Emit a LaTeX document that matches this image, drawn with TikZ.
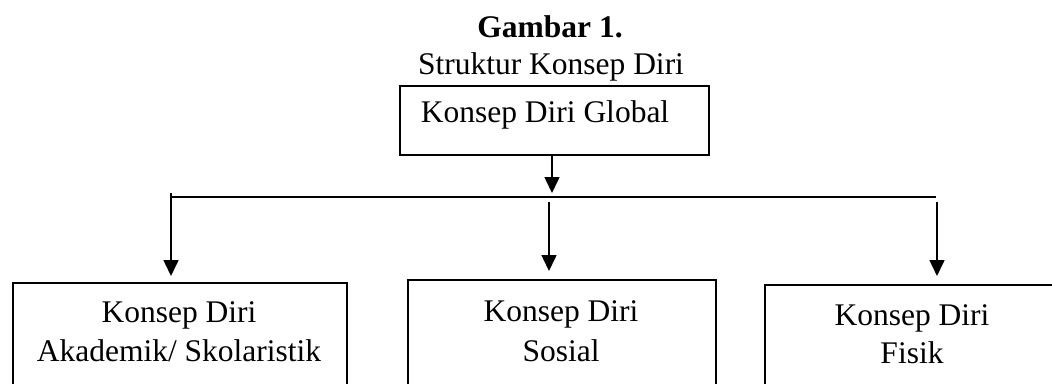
\documentclass[tikz,border=0pt]{standalone}
\usepackage{fontspec}
\setmainfont{Liberation Serif}
\usetikzlibrary{arrows.meta}
\begin{document}
\begin{tikzpicture}[x=1pt,y=-1pt,
  line width=1.6pt,
  txt/.style={inner sep=0pt,anchor=base,font=\fontsize{31.5}{39}\selectfont},
  boxnode/.style={draw,line width=1.6pt,inner sep=0pt,anchor=north west},
  arr/.style={-{Triangle[width=15pt,length=16pt]},line width=1.6pt}]
\clip (0,0) rectangle (1052,383);
\fill[white] (0,0) rectangle (1052,383);
% title
\node[txt,font=\fontsize{31.5}{39}\selectfont\bfseries] (title) at (550,37) {Gambar 1.};
\node[txt] (sub) at (551,74) {Struktur Konsep Diri};
% top box
\node[boxnode,minimum width=309pt,minimum height=69pt] (g) at (399,85) {};
\node[txt] (gt) at (545,122) {Konsep Diri Global};
% bottom boxes
\node[boxnode,minimum width=334pt,minimum height=160pt] (a) at (12,282) {};
\node[boxnode,minimum width=308pt,minimum height=160pt] (s) at (407,279) {};
\node[boxnode,minimum width=310pt,minimum height=160pt] (f) at (764,284) {};
\node[txt] (a1) at (179,322) {Konsep Diri};
\node[txt] (a2) at (179,361) {Akademik/ Skolaristik};
\node[txt] (s1) at (561,321) {Konsep Diri};
\node[txt] (s2) at (561,361) {Sosial};
\node[txt] (f1) at (912,325) {Konsep Diri};
\node[txt] (f2) at (912,363) {Fisik};
% connectors
\coordinate (gb) at (552,154);
\coordinate (gtip) at (552,193);
\coordinate (busL) at (171,197);
\coordinate (busR) at (936,197);
\coordinate (lstart) at (171,193);
\coordinate (ltip) at (171,276);
\coordinate (mstart) at (549,202);
\coordinate (mtip) at (549,271);
\coordinate (rstart) at (937,202);
\coordinate (rtip) at (937,276);
\draw[arr] (gb) -- (gtip);
\draw (busL) -- (busR);
\draw[arr] (lstart) -- (ltip);
\draw[arr] (mstart) -- (mtip);
\draw[arr] (rstart) -- (rtip);
\end{tikzpicture}
\end{document}
